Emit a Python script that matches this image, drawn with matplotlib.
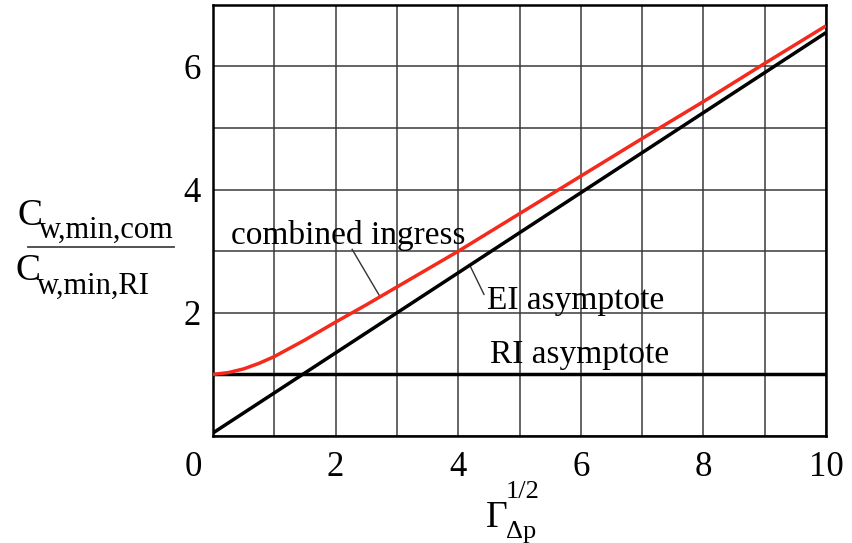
import numpy as np
import matplotlib
matplotlib.use("Agg")
import matplotlib.pyplot as plt
from matplotlib.lines import Line2D
import matplotlib.transforms as mtransforms

plt.rcParams['font.family'] = ['Liberation Serif', 'DejaVu Serif']

# combined ingress curve, read point by point
gamma_com = [0, 0.25, 0.5, 0.75, 1, 1.5, 2, 2.5, 3, 4, 5, 6, 7, 8, 9, 10]
ratio_com = [1.0, 1.03, 1.09, 1.18, 1.29, 1.56, 1.85, 2.13, 2.42, 3.0, 3.61, 4.22, 4.83, 5.43, 6.05, 6.66]

# asymptotes
gamma_ei = [0, 10]
ratio_ei = [0.05, 6.55]
gamma_ri = [0, 10]
ratio_ri = [1.0, 1.0]

xticks = [0, 2, 4, 6, 8, 10]
yticks = [2, 4, 6]

fig = plt.figure(figsize=(8.52, 5.43), dpi=100)
ax = fig.add_axes([0.25, 0.197, 0.7195, 0.794])

ax.plot(gamma_ri, ratio_ri, color='black', lw=2.5, solid_capstyle='butt', zorder=3)
ax.plot(gamma_ei, ratio_ei, color='black', lw=2.5, solid_capstyle='butt', zorder=3)
ax.plot(gamma_com, ratio_com, color='#f42a1c', lw=2.5, solid_capstyle='butt', zorder=4)

ax.set_xlim(0, 10)
ax.set_ylim(0, 7)
ax.set_xticks(np.arange(0, 11, 1), minor=True)
ax.set_yticks(np.arange(0, 8, 1), minor=True)
ax.set_xticks(xticks)
ax.set_xticklabels([str(v) for v in xticks])
ax.set_yticks(yticks)
ax.set_yticklabels([str(v) for v in yticks])
ax.grid(True, which='both', color='#3a3a3a', lw=1.1)
ax.set_axisbelow(True)
ax.tick_params(which='both', length=0, labelsize=25, pad=9)
ax.tick_params(axis='x', pad=11)
for s in ax.spines.values():
    s.set_linewidth(1.8)
    s.set_color('black')

# the 0 sits at the corner, shared by both axes
lab0 = ax.get_xticklabels()[0]
lab0.set_transform(lab0.get_transform() + mtransforms.ScaledTranslation(-20 / 100, 0, fig.dpi_scale_trans))

# annotations with leader lines
ax.text(0.3, 3.12, 'combined ingress', fontsize=24, ha='left', va='baseline')
ax.plot([2.27, 2.72], [3.03, 2.27], color='#333333', lw=1.0)
ax.text(4.47, 2.07, 'EI asymptote', fontsize=24, ha='left', va='baseline')
ax.plot([4.2, 4.42], [2.75, 2.3], color='#333333', lw=1.0)
ax.text(4.52, 1.19, 'RI asymptote', fontsize=24, ha='left', va='baseline')

# y label as a fraction
fig.text(0.021, 0.5856, 'C', fontsize=27, va='baseline')
fig.text(0.046, 0.5620, 'w,min,com', fontsize=22, va='baseline')
fig.add_artist(Line2D([0.033, 0.204], [0.545, 0.545], color='#444444', lw=1.3))
fig.text(0.018, 0.4843, 'C', fontsize=27, va='baseline')
fig.text(0.043, 0.4586, 'w,min,RI', fontsize=22, va='baseline')

# x label
fig.text(0.596, 0.029, '\u0393', fontsize=27, ha='right', va='baseline')
fig.text(0.594, 0.083, '1/2', fontsize=19, ha='left', va='baseline')
fig.text(0.594, 0.009, '\u0394p', fontsize=19, ha='left', va='baseline')

fig.savefig('out.png', dpi=100)
